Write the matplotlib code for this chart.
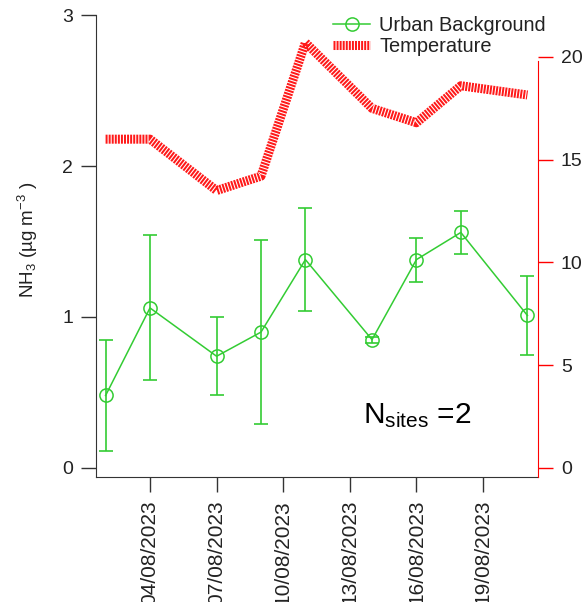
import datetime as dt
import matplotlib
matplotlib.use("Agg")
import matplotlib.pyplot as plt
import matplotlib.dates as mdates

plt.rcParams['font.family'] = ['Liberation Sans', 'DejaVu Sans']
plt.rcParams['mathtext.default'] = 'regular'

# data
days = [2, 4, 7, 9, 11, 14, 16, 18, 21]
nh3 = [0.48, 1.06, 0.74, 0.90, 1.38, 0.85, 1.38, 1.56, 1.01]
nh3_low = [0.11, 0.58, 0.48, 0.29, 1.04, 0.83, 1.23, 1.42, 0.75]
nh3_high = [0.85, 1.54, 1.00, 1.51, 1.72, 0.87, 1.52, 1.70, 1.27]
temperature = [16.0, 16.0, 13.5, 14.2, 20.7, 17.5, 16.8, 18.6, 18.15]
tick_days = [4, 7, 10, 13, 16, 19]

dates = [dt.datetime(2023, 8, d) for d in days]
err = [[v - lo for v, lo in zip(nh3, nh3_low)],
       [hi - v for v, hi in zip(nh3, nh3_high)]]

green = '#33cc33'
red = '#ff0000'
ink = '#333333'

fig = plt.figure(figsize=(5.82, 6.02), dpi=100)
ax = fig.add_axes([0.165, 0.2076, 0.7595, 0.7674])
ax2 = ax.twinx()

# NH3 with error bars
ax.errorbar(dates, nh3, yerr=err, fmt='none', ecolor=green, elinewidth=1.2,
            capsize=5, capthick=1.2, zorder=3)
line_nh3, = ax.plot(dates, nh3, color=green, lw=1.1, marker='o', ms=9.5,
                    mfc='none', mec=green, mew=1.1, label='Urban Background', zorder=4)

# temperature on the right axis
line_t, = ax2.plot(dates, temperature, color=red, lw=6.5, alpha=0.9,
                   linestyle=(0, (0.22, 0.12)), solid_joinstyle='miter',
                   dash_capstyle='butt', label='Temperature')

ax.set_xlim(dt.datetime(2023, 8, 1, 13, 40), dt.datetime(2023, 8, 21, 11, 30))
ax.set_ylim(-0.06, 3.0)
ax2.set_ylim(-0.44, 22.04)

ax.set_xticks([dt.datetime(2023, 8, d) for d in tick_days])
ax.xaxis.set_major_formatter(mdates.DateFormatter('%d/%m/%Y'))
ax.set_yticks([0, 1, 2, 3])
ax2.set_yticks([0, 5, 10, 15, 20])

for s in ['top', 'right']:
    ax.spines[s].set_visible(False)
for s in ['top', 'left', 'bottom']:
    ax2.spines[s].set_visible(False)
ax.spines['left'].set_color(ink)
ax.spines['bottom'].set_color(ink)
ax2.spines['right'].set_color(red)
ax2.spines['right'].set_bounds(-0.44, 19.8)

ax.tick_params(axis='both', direction='out', length=10.5, width=1, color=ink,
               labelsize=14, labelcolor='#222222', pad=6)
ax.tick_params(axis='x', labelrotation=90, labelsize=15)
ax2.tick_params(axis='y', direction='out', length=10.5, width=1, color=red,
                labelsize=14, labelcolor='#222222', pad=6)
for lab in ax.get_xticklabels():
    lab.set_va('top')

fig.text(28 / 582, 1 - 240 / 602, 'NH$_3$ (µg m$^{-3}$ )', fontsize=13.5,
         color='#222222', rotation=90, ha='center', va='center')

ax.text(0.726, 0.117, 'N$_{sites}$ =2', transform=ax.transAxes, fontsize=21.5,
        ha='center', va='baseline', color='black')

fig.legend(handles=[line_nh3, line_t], loc='upper left',
           bbox_to_anchor=(323 / 582, 1 - 6 / 602), frameon=False,
           fontsize=14.4, borderpad=0, handlelength=1.85, handletextpad=0.45,
           labelspacing=0.12, labelcolor='#222222')

fig.savefig('out.png', dpi=100)
